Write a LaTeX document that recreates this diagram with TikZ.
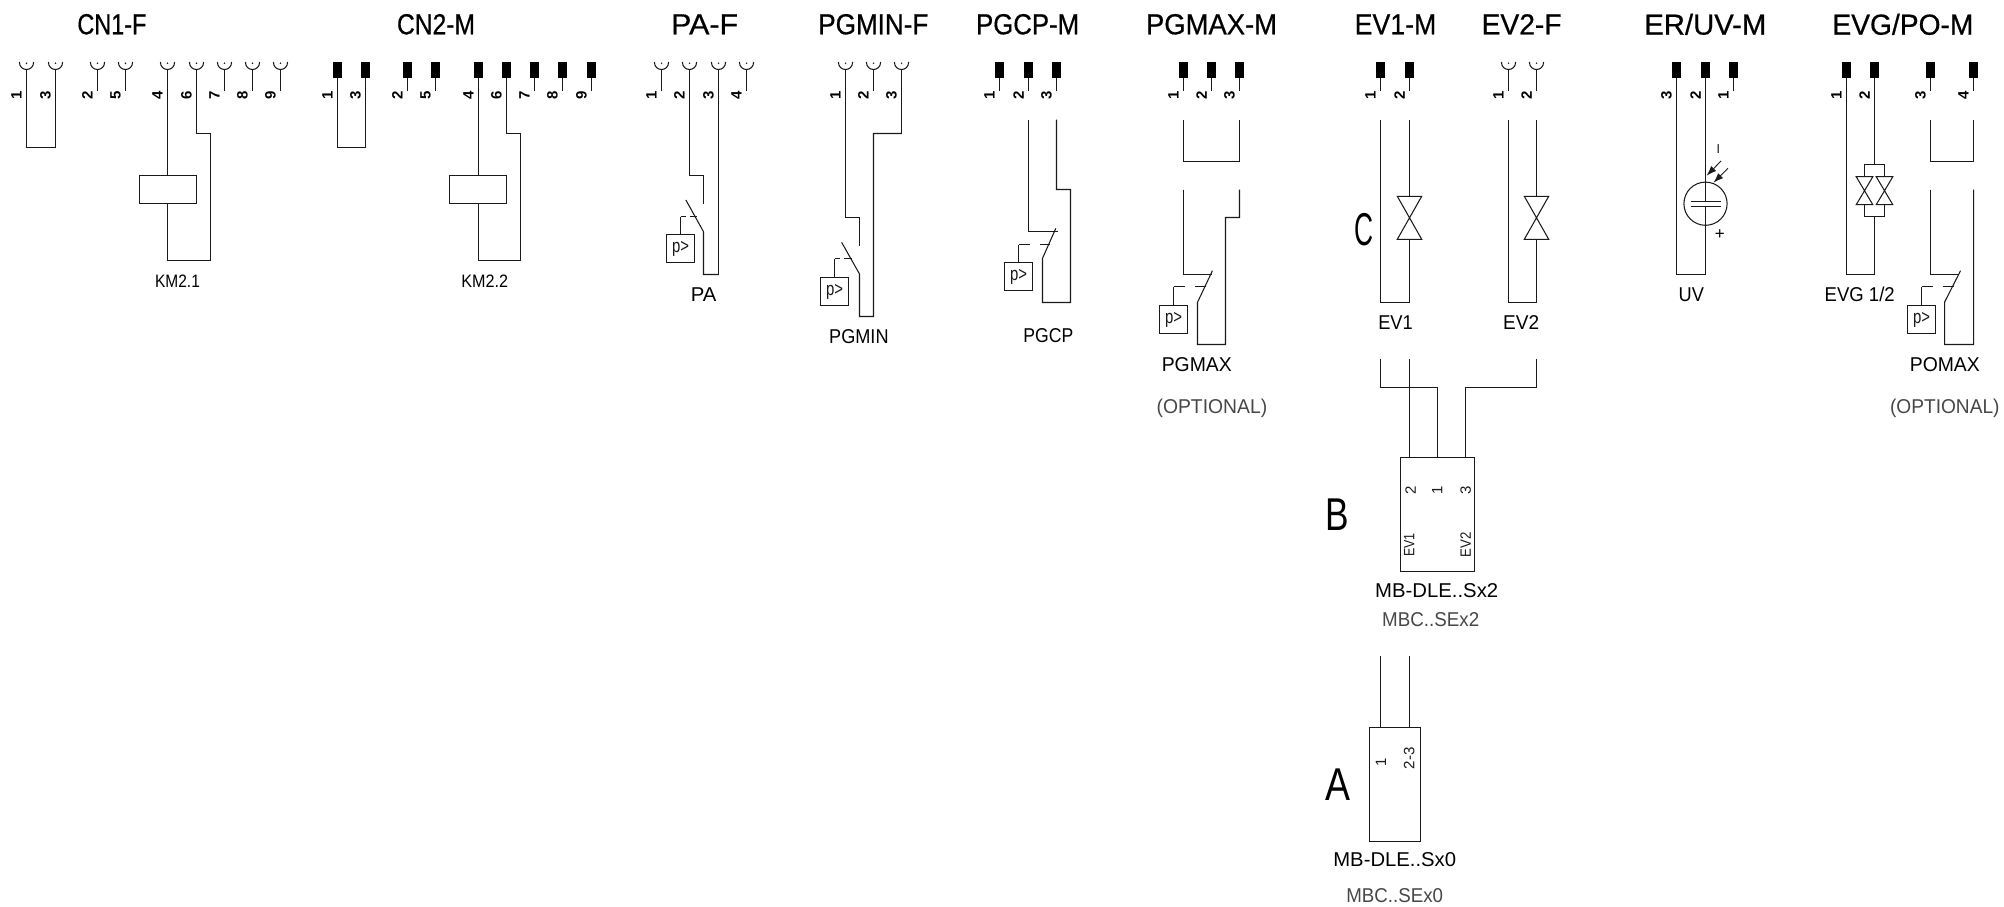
\documentclass[tikz,border=0pt]{standalone}
\usepackage{fontspec}
\usepackage{graphicx}
\setmainfont{Liberation Sans}
\newfontfamily\headfont[FakeBold=0.6]{Liberation Sans}
\usetikzlibrary{arrows.meta}
\definecolor{ink}{HTML}{1A1A1A}
\newcommand{\fw}[2]{\resizebox{#1pt}{\height}{#2}}
\tikzset{
  x=1pt,y=-1pt,
  wire/.style={draw=ink,line width=1.05pt,line join=miter},
  thin wire/.style={draw=ink,line width=0.9pt},
  title/.style={inner sep=0,text=black,font=\headfont\fontsize{29}{29}\selectfont},
  tag/.style={inner sep=0,text=black,font=\fontsize{20}{20}\selectfont},
  smalltag/.style={inner sep=0,text=black,font=\fontsize{18}{18}\selectfont},
  opt/.style={inner sep=0,text=black!72,font=\fontsize{20}{20}\selectfont},
  big/.style={inner sep=0,text=black,font=\fontsize{46}{46}\selectfont},
  pinnum/.style={inner sep=0,rotate=90,text=black,font=\fontsize{15}{15}\bfseries\selectfont},
  boxnum/.style={inner sep=0,rotate=90,text=ink,font=\fontsize{15}{15}\selectfont},
  pbox/.style={draw=ink,line width=1.05pt,fill=white,minimum width=28pt,minimum height=28pt,inner sep=0,outer sep=0,text=ink,font=\fontsize{19}{19}\selectfont},
  modbox/.style={draw=ink,line width=1.05pt,inner sep=0,outer sep=0},
  actshort/.style={draw=ink,line width=1.05pt,dash pattern=on 5pt off 4pt on 8pt off 40pt},
  actlong/.style={draw=ink,line width=1.05pt,dash pattern=on 11pt off 10pt on 11pt off 40pt},
  stem/.style={draw=ink,line width=1.4pt},
}
% female pin: x, number, end y
\newcommand{\fpin}[3]{%
  \draw[wire] (#1-7.1,62) .. controls (#1-7.1,67) and (#1-3.5,69.5) .. (#1,69.5)
     .. controls (#1+3.5,69.5) and (#1+7.1,67) .. (#1+7.1,62);
  \fill[ink] (#1,63.2) circle (0.8);
  \draw[wire] (#1,69.5) -- (#1,#3);
  \node[pinnum] (n#1) at (#1-10,95.7) {#2};}
\newcommand{\mpin}[3]{%
  \fill[black] (#1-4.1,62) rectangle (#1+4.1,77.7);
  \draw[wire] (#1,77.7) -- (#1,#3);
  \node[pinnum] (n#1) at (#1-10,95.7) {#2};}
% valve: cx, half width, top y, bottom y
\newcommand{\valve}[4]{%
  \draw[wire,line join=miter] (#1-#2,#3) -- (#1+#2,#3) -- (#1-#2,#4) -- (#1+#2,#4) -- cycle;}
\begin{document}
\begin{tikzpicture}
\useasboundingbox (0,0) rectangle (2004,906);
% ---------- titles
\node[title] (tCNa) at (111.9,24.3) {\fw{69}{CN1-F}};
\node[title] (tCNb) at (436,24.3) {\fw{78}{CN2-M}};
\node[title] (tPA) at (704.6,24.3) {\fw{67}{PA-F}};
\node[title] (tPGMIN) at (873.3,24.3) {\fw{110}{PGMIN-F}};
\node[title] (tPGCP) at (1027.6,24.3) {\fw{103}{PGCP-M}};
\node[title] (tPGMAX) at (1211.5,24.3) {\fw{131}{PGMAX-M}};
\node[title] (tEVa) at (1395.5,24.3) {\fw{81.6}{EV1-M}};
\node[title] (tEVb) at (1521.6,24.3) {\fw{80}{EV2-F}};
\node[title] (tER) at (1705.3,24.3) {\fw{122}{ER/UV-M}};
\node[title] (tEVG) at (1902.9,24.3) {\fw{141}{EVG/PO-M}};
% ---------- CN1-F
\fpin{26.5}{1}{147.5}\fpin{55.5}{3}{147.5}
\draw[wire] (26.5,147.5) -- (55.5,147.5);
\fpin{97.5}{2}{90.5}\fpin{125.5}{5}{90.5}
\fpin{167.5}{4}{175.5}\fpin{196.5}{6}{133.5}
\fpin{224.5}{7}{90.5}\fpin{252.5}{8}{90.5}\fpin{280.5}{9}{90.5}
\draw[wire] (139.5,175.5) rectangle (196.5,203.5);
\draw[wire] (167.5,203.5) -- (167.5,260.5) -- (210.5,260.5) -- (210.5,133.5) -- (196.5,133.5);
\node[smalltag] (km1) at (177.5,281.7) {\fw{44.7}{KM2.1}};
% ---------- CN2-M
\mpin{337.5}{1}{147.5}\mpin{365.5}{3}{147.5}
\draw[wire] (337.5,147.5) -- (365.5,147.5);
\mpin{407.5}{2}{90.5}\mpin{435.5}{5}{90.5}
\mpin{478.5}{4}{175.5}\mpin{506.5}{6}{133.5}
\mpin{534.5}{7}{90.5}\mpin{562.5}{8}{90.5}\mpin{591.5}{9}{90.5}
\draw[wire] (449.5,175.5) rectangle (506.5,203.5);
\draw[wire] (478.5,203.5) -- (478.5,260.5) -- (520.5,260.5) -- (520.5,133.5) -- (506.5,133.5);
\node[smalltag] (km2) at (484.8,281.7) {\fw{46.7}{KM2.2}};
% ---------- PA-F
\fpin{661.5}{1}{90.5}\fpin{689.5}{2}{175.5}\fpin{718.5}{3}{274.5}\fpin{746.5}{4}{90.5}
\draw[wire] (689.5,175.5) -- (703.5,175.5) -- (703.5,203.5);
\draw[wire] (685.9,200) -- (703.5,231.7) -- (703.5,274.5) -- (718.5,274.5);
\node[pbox] (pPA) at (680.5,248.5) {\fw{17}{p>}};
\draw[wire] (pPA.north) -- (680.5,216.5);
\draw[actshort] (680.5,216.5) -- (696.5,216.5);
\node[tag] (lPA) at (703.7,294.7) {\fw{25.6}{PA}};
% ---------- PGMIN-F
\fpin{845.5}{1}{217.5}\fpin{873.5}{2}{90.5}\fpin{901.5}{3}{133.5}
\draw[wire] (845.5,217.5) -- (859.5,217.5) -- (859.5,245.7);
\draw[wire] (841.6,242.3) -- (859.5,274) -- (859.5,316.5) -- (873.5,316.5) -- (873.5,133.5) -- (901.5,133.5);
\node[pbox] (pMIN) at (834.5,291.5) {\fw{17}{p>}};
\draw[wire] (pMIN.north) -- (834.5,258.5);
\draw[actshort] (834.5,258.5) -- (852,258.5);
\node[tag] (lMIN) at (858.9,336.5) {\fw{59.4}{PGMIN}};
% ---------- PGCP-M
\mpin{999.5}{1}{90.5}\mpin{1028.5}{2}{90.5}\mpin{1056.5}{3}{90.5}
\draw[wire] (1028.5,119.5) -- (1028.5,231.5) -- (1058.4,231.5);
\draw[wire] (1056.5,119.5) -- (1056.5,189.5) -- (1070.5,189.5) -- (1070.5,302.5) -- (1042.5,302.5) -- (1042.5,258.3) -- (1055.8,228.3);
\node[pbox] (pCP) at (1018.5,276.5) {\fw{17}{p>}};
\draw[wire] (pCP.north) -- (1018.5,244.5);
\draw[actlong] (1018.5,244.5) -- (1049.5,244.5);
\node[tag] (lCP) at (1048.4,335.8) {\fw{49.9}{PGCP}};
% ---------- PGMAX-M
\mpin{1183.5}{1}{90.5}\mpin{1211.5}{2}{90.5}\mpin{1239.5}{3}{90.5}
\draw[wire] (1183.5,119.5) -- (1183.5,161.5) -- (1239.5,161.5) -- (1239.5,119.5);
\draw[wire] (1183.5,189.5) -- (1183.5,274.5) -- (1212,274.5);
\draw[wire] (1239.5,189.5) -- (1239.5,217.5) -- (1225.5,217.5) -- (1225.5,344.5) -- (1197.5,344.5) -- (1197.5,302.3) -- (1212.4,270.7);
\node[pbox] (pMAX) at (1173.5,319.5) {\fw{17}{p>}};
\draw[wire] (pMAX.north) -- (1173.5,286.5);
\draw[actlong] (1173.5,286.5) -- (1205.5,286.5);
\node[tag] (lMAX) at (1196.8,364.3) {\fw{70}{PGMAX}};
\node[opt] (oMAX) at (1211.9,408.7) {\fw{110.6}{(OPTIONAL)}};
% ---------- EV1-M / EV2-F
\mpin{1380.5}{1}{90.5}\mpin{1409.5}{2}{90.5}
\fpin{1508.5}{1}{90.5}\fpin{1536.5}{2}{90.5}
\draw[wire] (1380.5,119.5) -- (1380.5,302.5) -- (1409.5,302.5) -- (1409.5,239.3);
\draw[wire] (1409.5,119.5) -- (1409.5,133.5);
\draw[stem] (1409.5,133.5) -- (1409.5,196.3);
\valve{1409.5}{12.2}{196.3}{239.3}
\draw[wire] (1508.5,119.5) -- (1508.5,302.5) -- (1536.5,302.5) -- (1536.5,239.3);
\draw[wire] (1536.5,119.5) -- (1536.5,133.5);
\draw[stem] (1536.5,133.5) -- (1536.5,196.3);
\valve{1536.5}{12.2}{196.3}{239.3}
\node[big] (lC) at (1363.6,229.3) {\fw{19}{C}};
\node[tag] (lEVa) at (1395.5,322.3) {\fw{34.5}{EV1}};
\node[tag] (lEVb) at (1521.1,322.3) {\fw{36}{EV2}};
% ---------- wiring to module B
\node[modbox,minimum width=74pt,minimum height=114pt] (boxB) at (1437.5,514.5) {};
\draw[wire] (1380.5,358.9) -- (1380.5,387.5) -- (1437.5,387.5) -- (1437.5,457.5);
\draw[wire] (1409.5,358.9) -- (1409.5,457.5);
\draw[wire] (1536.5,358.9) -- (1536.5,387.5) -- (1465.5,387.5) -- (1465.5,457.5);
\node[boxnum] (b2) at (1410.7,489.9) {2};
\node[boxnum] (b1) at (1437.3,489.9) {1};
\node[boxnum] (b3) at (1465.7,489.9) {3};
\node[boxnum] (bE1) at (1409.3,545) {\fw{23.6}{EV1}};
\node[boxnum] (bE2) at (1465.7,545) {\fw{25}{EV2}};
\node[big] (lB) at (1337.7,514.9) {\fw{23.5}{B}};
\node[tag] (lMB2) at (1436.7,591) {\fw{123}{MB-DLE..Sx2}};
\node[opt] (lMBC2) at (1430.7,619.5) {\fw{97}{MBC..SEx2}};
% ---------- module A
\node[modbox,minimum width=51pt,minimum height=114pt] (boxA) at (1395,784.5) {};
\draw[wire] (1380.5,656.4) -- (1380.5,727.5);
\draw[wire] (1409.5,656.4) -- (1409.5,727.5);
\node[boxnum] (a1) at (1381,762) {1};
\node[boxnum] (a23) at (1409.3,758.4) {\fw{21.8}{2-3}};
\node[big] (lA) at (1338.3,784.5) {\fw{25}{A}};
\node[tag] (lMB0) at (1394.7,859.9) {\fw{122.7}{MB-DLE..Sx0}};
\node[opt] (lMBC0) at (1394.7,896) {\fw{96.7}{MBC..SEx0}};
% ---------- ER/UV-M
\mpin{1676.5}{3}{274.5}\mpin{1705.5}{2}{201.5}\mpin{1733.5}{1}{90.5}
\draw[wire] (1676.5,274.5) -- (1705.5,274.5) -- (1705.5,206.5);
\draw[wire] (1705.5,203.7) +(-21.6,0) arc[start angle=180,end angle=-180,radius=21.6];
\draw[wire] (1690.5,201.5) -- (1720.5,201.5);
\draw[wire] (1690.5,206.5) -- (1720.5,206.5);
\draw[thin wire,-{Latex[length=10pt,width=7pt]}] (1721,161) -- (1706.6,175.7);
\draw[thin wire,-{Latex[length=10pt,width=7pt]}] (1728,168.3) -- (1713.5,182.7);
\node[inner sep=0,rotate=90,font=\fontsize{16}{16}\selectfont] (minus) at (1720,149) {–};
\node[inner sep=0,font=\fontsize{17}{17}\selectfont] (plus) at (1719.7,234.3) {+};
\node[tag] (lUV) at (1691.3,294.7) {\fw{25.3}{UV}};
% ---------- EVG/PO-M
\mpin{1846.5}{1}{274.5}\mpin{1874.5}{2}{164.5}\mpin{1930.5}{3}{90.5}\mpin{1973.5}{4}{90.5}
\draw[wire] (1846.5,274.5) -- (1874.5,274.5) -- (1874.5,216.5);
\draw[wire] (1864.5,176.7) -- (1864.5,164.5) -- (1884.5,164.5) -- (1884.5,176.7);
\draw[wire] (1864.5,204.7) -- (1864.5,216.5) -- (1884.5,216.5) -- (1884.5,204.7);
\valve{1864.5}{8.3}{176.7}{204.7}
\valve{1884.5}{8.3}{176.7}{204.7}
\draw[wire] (1930.5,119.5) -- (1930.5,161.5) -- (1973.5,161.5) -- (1973.5,119.5);
\draw[wire] (1930.5,189.5) -- (1930.5,274.5) -- (1959.2,274.5);
\draw[wire] (1973.5,189.5) -- (1973.5,344.5) -- (1944.5,344.5) -- (1944.5,302.3) -- (1960.5,270.7);
\node[pbox] (pPO) at (1921.5,319.5) {\fw{17}{p>}};
\draw[wire] (pPO.north) -- (1921.5,286.5);
\draw[actlong] (1921.5,286.5) -- (1953.5,286.5);
\node[tag] (lEVG) at (1859.7,294.7) {\fw{70}{EVG 1/2}};
\node[tag] (lPO) at (1944.8,364.3) {\fw{70}{POMAX}};
\node[opt] (oPO) at (1944.8,408.7) {\fw{109.5}{(OPTIONAL)}};
\end{tikzpicture}
\end{document}
